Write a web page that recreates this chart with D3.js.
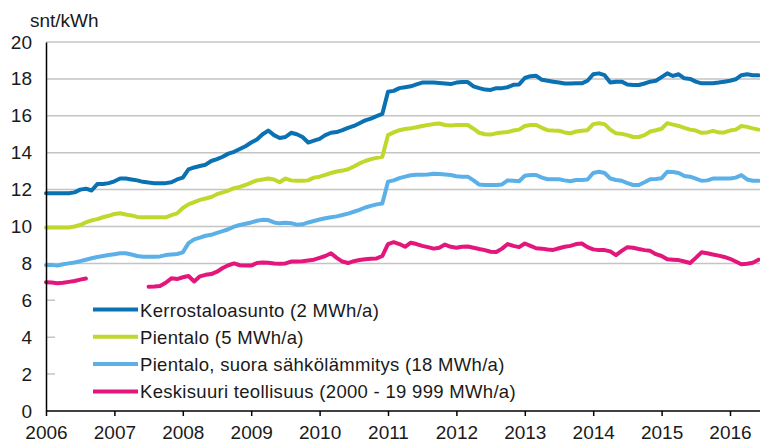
<!DOCTYPE html>
<html>
<head>
<meta charset="utf-8">
<script src="https://cdn.jsdelivr.net/npm/d3@7"></script>
<style>
  body { margin: 0; background: #fff; }
  svg { display: block; font-family: "Liberation Sans", Arial, sans-serif; }
</style>
</head>
<body>
<div id="chart"></div>
<script>
// monthly series, first value = January 2006
var startYear = 2006;
var yearTicks = [2006, 2007, 2008, 2009, 2010, 2011, 2012, 2013, 2014, 2015, 2016];
var valueTicks = [0, 2, 4, 6, 8, 10, 12, 14, 16, 18, 20];
var unitLabel = "snt/kWh";
var seriesNames = [
    "Kerrostaloasunto (2 MWh/a)",
    "Pientalo (5 MWh/a)",
    "Pientalo, suora sähkölämmitys (18 MWh/a)",
    "Keskisuuri teollisuus (2000 - 19 999 MWh/a)"
];
var seriesColors = ["#0a71b3", "#c0d72c", "#5bb0e8", "#e2167b"];

var kerrostalo = [
    11.8, 11.8, 11.8, 11.8, 11.8, 11.85, 12.0, 12.05, 11.95, 12.3, 12.3, 12.35,
    12.45, 12.6, 12.6, 12.55, 12.5, 12.42, 12.38, 12.35, 12.35, 12.35, 12.4, 12.55,
    12.65, 13.1, 13.2, 13.28, 13.35, 13.55, 13.65, 13.78, 13.95, 14.05, 14.2, 14.35,
    14.55, 14.72, 15.0, 15.2, 14.95, 14.8, 14.85, 15.08, 15.0, 14.85, 14.55, 14.65,
    14.75, 14.95, 15.08, 15.12, 15.22, 15.35, 15.45, 15.6, 15.75, 15.85, 15.98, 16.1,
    17.3, 17.35, 17.5, 17.55, 17.6, 17.7, 17.8, 17.8, 17.8, 17.78, 17.75, 17.72,
    17.8, 17.83, 17.83, 17.6, 17.5, 17.42, 17.4, 17.5, 17.5, 17.55, 17.68, 17.7,
    18.05, 18.15, 18.17, 17.95, 17.9, 17.85, 17.8, 17.75, 17.75, 17.76, 17.76, 17.9,
    18.25, 18.3, 18.2, 17.8, 17.85, 17.85, 17.7, 17.67, 17.67, 17.75, 17.85, 17.9,
    18.1, 18.3, 18.16, 18.25, 18.03, 18.0, 17.85, 17.76, 17.76, 17.76, 17.8, 17.85,
    17.9, 17.98, 18.2, 18.25, 18.2, 18.2
];
var pientalo = [
    9.95, 9.95, 9.95, 9.95, 9.95, 10.0, 10.08, 10.22, 10.33, 10.4, 10.5, 10.58,
    10.68, 10.72, 10.65, 10.6, 10.52, 10.5, 10.5, 10.5, 10.5, 10.5, 10.62, 10.71,
    11.0, 11.2, 11.32, 11.44, 11.52, 11.6, 11.75, 11.85, 11.95, 12.08, 12.15, 12.25,
    12.38, 12.5, 12.55, 12.6, 12.55, 12.4, 12.6, 12.5, 12.48, 12.48, 12.5, 12.65,
    12.7, 12.8, 12.9, 12.98, 13.03, 13.1, 13.25, 13.42, 13.55, 13.65, 13.72, 13.78,
    14.95, 15.1, 15.22, 15.28, 15.32, 15.38, 15.45, 15.5, 15.55, 15.58, 15.5, 15.48,
    15.5, 15.5, 15.5, 15.3, 15.08, 15.0, 14.98, 15.05, 15.1, 15.12, 15.2, 15.25,
    15.45, 15.5, 15.5, 15.35, 15.22, 15.2, 15.19, 15.1, 15.05, 15.15, 15.19, 15.22,
    15.55, 15.6, 15.55, 15.25, 15.05, 15.02, 14.95, 14.85, 14.85, 14.95, 15.15, 15.22,
    15.3, 15.6, 15.52, 15.45, 15.35, 15.25, 15.2, 15.08, 15.1, 15.18, 15.1, 15.1,
    15.2, 15.25, 15.45, 15.4, 15.32, 15.25
];
var pientaloSuora = [
    7.92, 7.92, 7.88, 7.95, 8.0, 8.05, 8.12, 8.2, 8.28, 8.35, 8.4, 8.45,
    8.5, 8.55, 8.55, 8.48, 8.4, 8.36, 8.36, 8.36, 8.38, 8.45, 8.48, 8.51,
    8.6, 9.1, 9.3, 9.4, 9.5, 9.55, 9.65, 9.75, 9.85, 9.99, 10.08, 10.15,
    10.22, 10.31, 10.36, 10.35, 10.22, 10.17, 10.2, 10.18, 10.1, 10.12, 10.22, 10.3,
    10.38, 10.45, 10.5, 10.55, 10.62, 10.7, 10.8, 10.9, 11.03, 11.12, 11.2, 11.25,
    12.43, 12.5, 12.62, 12.7, 12.78, 12.8, 12.8, 12.82, 12.86, 12.85, 12.82, 12.79,
    12.72, 12.7, 12.7, 12.5, 12.27, 12.25, 12.25, 12.25, 12.28, 12.5, 12.48, 12.45,
    12.75, 12.79, 12.79, 12.65, 12.56, 12.56, 12.56, 12.5, 12.45, 12.52, 12.52, 12.55,
    12.9, 12.97, 12.9, 12.6, 12.52, 12.48, 12.35, 12.25, 12.25, 12.4, 12.56, 12.58,
    12.62, 12.97, 12.95, 12.9, 12.74, 12.7, 12.6, 12.48, 12.5, 12.6, 12.6, 12.6,
    12.6, 12.65, 12.78, 12.55, 12.48, 12.48
];
var teollisuus = [
    6.98, 6.96, 6.93, 6.95, 7.0, 7.05, 7.12, 7.18, null, null, null, null,
    null, null, null, null, null, null, 6.74, 6.75, 6.78, 6.95, 7.19, 7.15,
    7.25, 7.32, 7.02, 7.3, 7.38, 7.42, 7.55, 7.75, 7.9, 8.0, 7.9, 7.88,
    7.88, 8.02, 8.05, 8.04, 8.0, 7.98, 8.0, 8.1, 8.1, 8.12, 8.16, 8.2,
    8.3, 8.4, 8.55, 8.3, 8.1, 8.02, 8.12, 8.18, 8.22, 8.25, 8.27, 8.4,
    9.05, 9.15, 9.05, 8.9, 9.12, 9.05, 8.95, 8.88, 8.8, 8.85, 9.02, 8.9,
    8.85, 8.9, 8.92, 8.85, 8.78, 8.72, 8.63, 8.62, 8.8, 9.05, 8.95, 8.88,
    9.08, 8.95, 8.82, 8.8, 8.75, 8.73, 8.82, 8.9, 8.95, 9.05, 9.08, 8.88,
    8.76, 8.72, 8.72, 8.65, 8.45, 8.68, 8.88, 8.85, 8.78, 8.72, 8.68, 8.5,
    8.4, 8.22, 8.2, 8.18, 8.1, 8.02, 8.3, 8.6, 8.55, 8.48, 8.42, 8.35,
    8.25, 8.1, 7.95, 7.98, 8.04, 8.2
];

var allSeries = [kerrostalo, pientalo, pientaloSuora, teollisuus];

var width = 760,
    height = 443,
    margin = { top: 42, right: 0, bottom: 32, left: 46 };

var svg = d3.select("#chart")
    .append("svg")
    .attr("width", width)
    .attr("height", height);

var x = d3.scaleLinear()
    .domain([2006, 2016])
    .range([margin.left, 730]);

var y = d3.scaleLinear()
    .domain([0, 20])
    .range([height - margin.bottom, margin.top]);

// gridlines
svg.append("g")
    .selectAll("line")
    .data(valueTicks.filter(function(d) { return d > 0; }))
    .enter().append("line")
        .attr("x1", margin.left)
        .attr("x2", width)
        .attr("y1", function(d) { return y(d); })
        .attr("y2", function(d) { return y(d); })
        .attr("stroke", "#c4c4c4")
        .attr("stroke-width", 1.5);

// lines
var line = d3.line()
    .defined(function(d) { return d.v !== null; })
    .x(function(d) { return x(d.t); })
    .y(function(d) { return y(d.v); });

allSeries.forEach(function(values, i) {
    var pts = values.map(function(v, m) { return { t: startYear + m / 12, v: v }; });
    svg.append("path")
        .datum(pts)
        .attr("fill", "none")
        .attr("stroke", seriesColors[i])
        .attr("stroke-width", 4)
        .attr("stroke-linejoin", "round")
        .attr("stroke-linecap", "round")
        .attr("d", line);
});

// legend (white box hides the lower gridlines)
var legend = svg.append("g");
legend.append("rect")
    .attr("x", 55)
    .attr("y", 292)
    .attr("width", width - 55)
    .attr("height", 112)
    .attr("fill", "#fff");

seriesNames.forEach(function(name, i) {
    var ly = 309.5 + i * 27.3;
    legend.append("line")
        .attr("x1", 93)
        .attr("x2", 138)
        .attr("y1", ly)
        .attr("y2", ly)
        .attr("stroke", seriesColors[i])
        .attr("stroke-width", 4);
    legend.append("text")
        .attr("x", 140)
        .attr("y", ly + 7)
        .attr("font-size", 18.5)
        .attr("letter-spacing", 0.3)
        .attr("fill", "#1a1a1a")
        .text(name);
});

// x axis
var xAxis = svg.append("g")
    .attr("transform", "translate(0," + y(0) + ")")
    .call(d3.axisBottom(x)
        .tickValues(yearTicks)
        .tickFormat(d3.format("d"))
        .tickSize(5)
        .tickPadding(10));
xAxis.select(".domain").attr("d", "M" + margin.left + ",0H" + width).attr("stroke-width", 1.5);
xAxis.selectAll(".tick line").attr("stroke-width", 1.5);
xAxis.selectAll("text").attr("font-size", 19).attr("fill", "#1a1a1a");

// y axis
var yAxis = svg.append("g")
    .attr("transform", "translate(" + margin.left + ",0)")
    .call(d3.axisLeft(y)
        .tickValues(valueTicks)
        .tickSize(0)
        .tickPadding(14));
yAxis.select(".domain").attr("stroke-width", 1.5);
yAxis.selectAll("text").attr("font-size", 19).attr("fill", "#1a1a1a");

// unit
svg.append("text")
    .attr("x", 30)
    .attr("y", 27)
    .attr("font-size", 19)
    .attr("fill", "#1a1a1a")
    .text(unitLabel);
</script>
</body>
</html>
